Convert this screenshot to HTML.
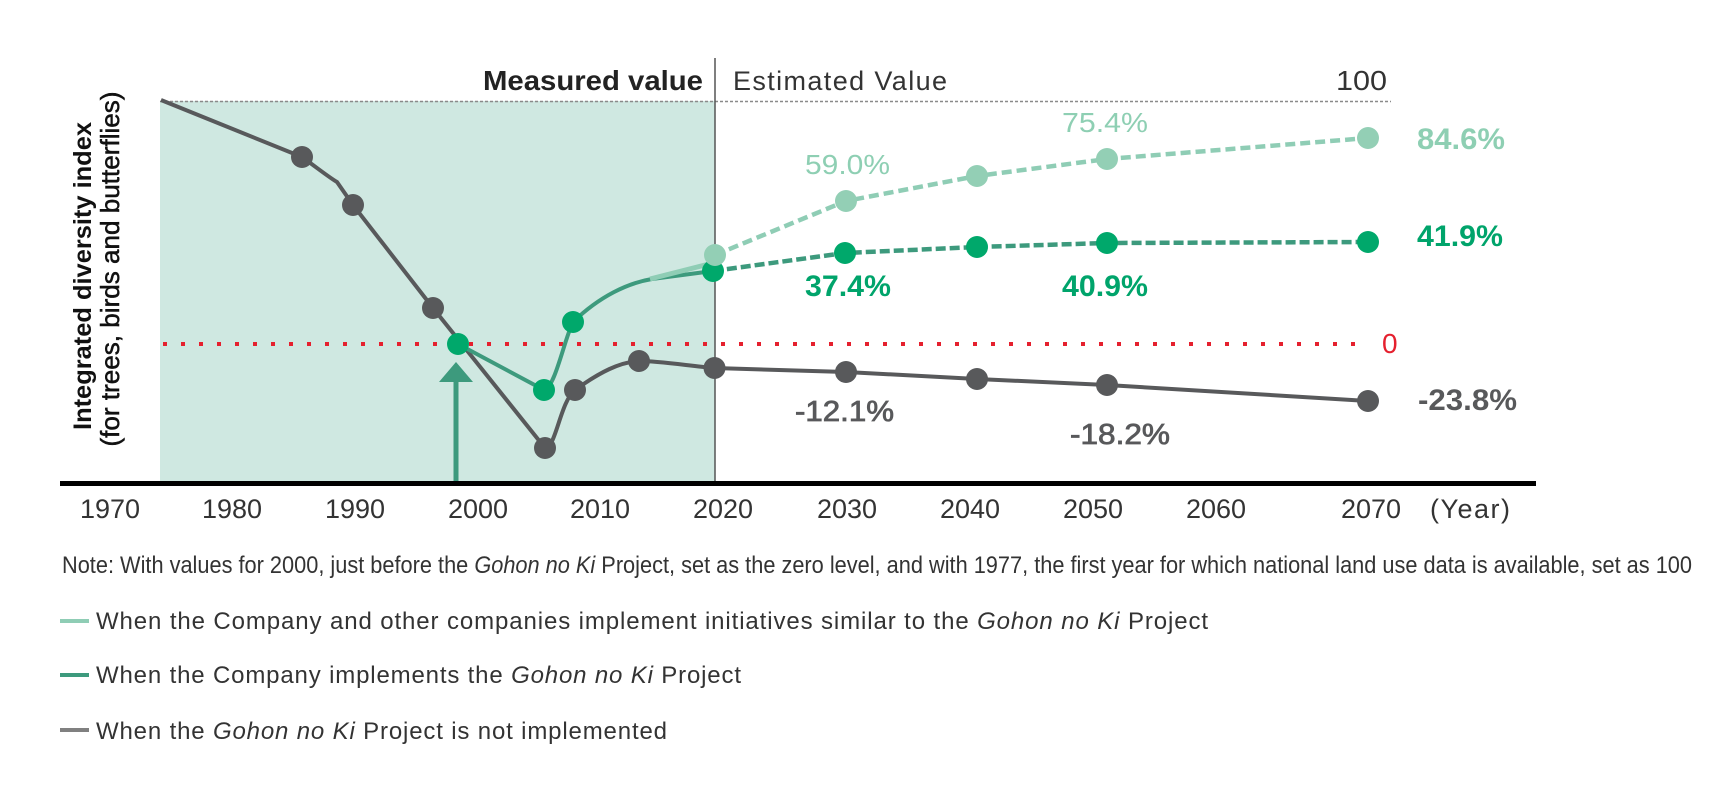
<!DOCTYPE html>
<html>
<head>
<meta charset="utf-8">
<style>
html,body{margin:0;padding:0;background:#fff;}
svg{display:block;}
text{font-family:"Liberation Sans",Arial,sans-serif;}
</style>
</head>
<body>
<svg width="1720" height="792" viewBox="0 0 1720 792" xmlns="http://www.w3.org/2000/svg">
  <!-- shaded measured area -->
  <rect x="160" y="101" width="555" height="382" fill="#cfe8e1"/>
  <!-- top dotted 100 line -->
  <line x1="160" y1="101.5" x2="1391" y2="101.5" stroke="#8a8a8a" stroke-width="1.5" stroke-dasharray="3 2"/>
  <!-- vertical divider -->
  <line x1="715" y1="58" x2="715" y2="483" stroke="#555" stroke-width="1.5"/>
  <!-- red zero line -->
  <line x1="163" y1="344" x2="1366" y2="344" stroke="#e5202e" stroke-width="4" stroke-dasharray="4 14"/>
  <!-- arrow -->
  <line x1="456" y1="380" x2="456" y2="483" stroke="#3d9a7d" stroke-width="5"/>
  <polygon points="456,362 439,382 473,382" fill="#3d9a7d"/>
  <!-- axis -->
  <line x1="60" y1="483.5" x2="1536" y2="483.5" stroke="#000" stroke-width="5"/>

  <!-- gray line (not implemented) -->
  <path d="M161,100 L302,157 C320,170 330,178 337,182 L353,205 L433,308 L545,448 C556,448 560,402 575,390 C600,372 620,362 639,361 C660,361 690,366 714,368 L846,372 L977,379 L1107,385 L1368,401"
        fill="none" stroke="#58595b" stroke-width="4" stroke-linejoin="round"/>
  <!-- dark green solid (company) -->
  <path d="M458,344 L544,390 C555,388 564,340 573,322 C600,296 628,283 652,279 L713,271"
        fill="none" stroke="#3d9a7d" stroke-width="4" stroke-linejoin="round"/>
  <!-- light green solid piece -->
  <path d="M650,279 L713,263" fill="none" stroke="#8fcdb5" stroke-width="5"/>
  <!-- dark green dashed -->
  <path d="M713,271 L845,253 L977,247 L1107,243 L1368,242" fill="none" stroke="#3d9a7d" stroke-width="4.5" stroke-dasharray="10 4"/>
  <!-- light green dashed -->
  <path d="M715,255 L846,201 L977,176 L1107,159 L1368,138" fill="none" stroke="#8fcdb5" stroke-width="4.5" stroke-dasharray="10 5"/>

  <!-- gray markers -->
  <g fill="#58595b">
    <circle cx="302" cy="157" r="11"/>
    <circle cx="353" cy="205" r="11"/>
    <circle cx="433" cy="308" r="11"/>
    <circle cx="545" cy="448" r="11"/>
    <circle cx="575" cy="390" r="11"/>
    <circle cx="639" cy="361" r="11"/>
    <circle cx="714.5" cy="368" r="11"/>
    <circle cx="846" cy="372" r="11"/>
    <circle cx="977" cy="379" r="11"/>
    <circle cx="1107" cy="385" r="11"/>
    <circle cx="1368" cy="401" r="11"/>
  </g>
  <!-- dark green markers -->
  <g fill="#00a86b">
    <circle cx="458" cy="344" r="11"/>
    <circle cx="544" cy="390" r="11"/>
    <circle cx="573" cy="322" r="11"/>
    <circle cx="713" cy="271" r="11"/>
    <circle cx="845" cy="253" r="11"/>
    <circle cx="977" cy="247" r="11"/>
    <circle cx="1107" cy="243" r="11"/>
    <circle cx="1368" cy="242" r="11"/>
  </g>
  <!-- light green markers -->
  <g fill="#93cfb5">
    <circle cx="715" cy="255" r="11"/>
    <circle cx="846" cy="201" r="11"/>
    <circle cx="977" cy="176" r="11"/>
    <circle cx="1107" cy="159" r="11"/>
    <circle cx="1368" cy="138" r="11"/>
  </g>

  <!-- header texts -->
  <text x="483" y="90" font-size="28" font-weight="bold" fill="#222" textLength="220" lengthAdjust="spacingAndGlyphs">Measured value</text>
  <text x="733" y="90" font-size="27" fill="#333" textLength="214" lengthAdjust="spacing">Estimated Value</text>
  <text x="1336" y="90" font-size="28" fill="#333" textLength="51" lengthAdjust="spacingAndGlyphs">100</text>
  <text x="1382" y="353" font-size="28" fill="#e5202e">0</text>

  <!-- data labels -->
  <text x="805" y="174" font-size="28" fill="#8ecfb3" textLength="85" lengthAdjust="spacingAndGlyphs">59.0%</text>
  <text x="1062" y="132" font-size="28" fill="#8ecfb3" textLength="86" lengthAdjust="spacingAndGlyphs">75.4%</text>
  <text x="1417" y="149" font-size="30" font-weight="bold" fill="#8ecfb3" textLength="88" lengthAdjust="spacingAndGlyphs">84.6%</text>
  <text x="1417" y="246" font-size="30" font-weight="bold" fill="#00a46b" textLength="86" lengthAdjust="spacingAndGlyphs">41.9%</text>
  <text x="805" y="296" font-size="30" font-weight="bold" fill="#00a46b" textLength="86" lengthAdjust="spacingAndGlyphs">37.4%</text>
  <text x="1062" y="296" font-size="30" font-weight="bold" fill="#00a46b" textLength="86" lengthAdjust="spacingAndGlyphs">40.9%</text>
  <text x="795" y="421" font-size="29" fill="#58595b" stroke="#58595b" stroke-width="0.8" textLength="99" lengthAdjust="spacingAndGlyphs">-12.1%</text>
  <text x="1070" y="444" font-size="29" fill="#58595b" stroke="#58595b" stroke-width="0.8" textLength="100" lengthAdjust="spacingAndGlyphs">-18.2%</text>
  <text x="1418" y="410" font-size="30" font-weight="bold" fill="#58595b" textLength="99" lengthAdjust="spacingAndGlyphs">-23.8%</text>

  <!-- y axis label -->
  <text transform="translate(91,276) rotate(-90)" text-anchor="middle" font-size="25" font-weight="bold" fill="#111" textLength="308" lengthAdjust="spacingAndGlyphs">Integrated diversity index</text>
  <text transform="translate(119,269) rotate(-90)" text-anchor="middle" font-size="26" fill="#111" stroke="#111" stroke-width="0.5" textLength="355" lengthAdjust="spacingAndGlyphs">(for trees, birds and butterflies)</text>

  <!-- x tick labels -->
  <g font-size="27" fill="#333" text-anchor="middle">
    <text x="110" y="518">1970</text>
    <text x="232" y="518">1980</text>
    <text x="355" y="518">1990</text>
    <text x="478" y="518">2000</text>
    <text x="600" y="518">2010</text>
    <text x="723" y="518">2020</text>
    <text x="847" y="518">2030</text>
    <text x="970" y="518">2040</text>
    <text x="1093" y="518">2050</text>
    <text x="1216" y="518">2060</text>
    <text x="1371" y="518">2070</text>
  </g>
  <text x="1430" y="518" font-size="27" fill="#333" textLength="80" lengthAdjust="spacing">(Year)</text>

  <!-- note -->
  <text x="62" y="573" font-size="24" fill="#333" textLength="1630" lengthAdjust="spacingAndGlyphs">Note: With values for 2000, just before the <tspan font-style="italic">Gohon no Ki</tspan> Project, set as the zero level, and with 1977, the first year for which national land use data is available, set as 100</text>

  <!-- legend -->
  <line x1="60" y1="621" x2="89" y2="621" stroke="#8fcdb5" stroke-width="4"/>
  <text x="96" y="629" font-size="24" fill="#333" textLength="1112" lengthAdjust="spacing">When the Company and other companies implement initiatives similar to the <tspan font-style="italic">Gohon no Ki</tspan> Project</text>
  <line x1="60" y1="675" x2="89" y2="675" stroke="#3d9a7d" stroke-width="4"/>
  <text x="96" y="683" font-size="24" fill="#333" textLength="645" lengthAdjust="spacing">When the Company implements the <tspan font-style="italic">Gohon no Ki</tspan> Project</text>
  <line x1="60" y1="730" x2="89" y2="730" stroke="#808080" stroke-width="4"/>
  <text x="96" y="739" font-size="24" fill="#333" textLength="571" lengthAdjust="spacing">When the <tspan font-style="italic">Gohon no Ki</tspan> Project is not implemented</text>
</svg>
</body>
</html>
